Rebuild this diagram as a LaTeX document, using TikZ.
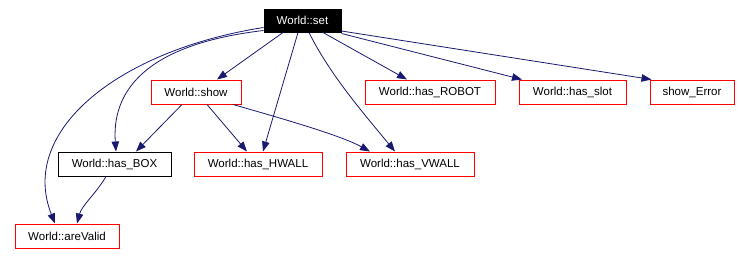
\documentclass[tikz,border=0pt]{standalone}
\usepackage{fontspec}
\setmainfont{Liberation Sans}
\usetikzlibrary{arrows.meta}
\definecolor{edgeblue}{RGB}{25,25,112}
\begin{document}
\begin{tikzpicture}[x=1pt,y=-1pt,
  fn/.style={draw=red,line width=1pt,inner sep=0pt,font=\fontsize{11.5}{13}\selectfont,minimum height=24pt},
  plainfn/.style={fn,draw=black},
  rootfn/.style={fn,draw=black,fill=black,text=white,minimum height=23pt},
  call/.style={draw=edgeblue,line width=0.8pt,-{Triangle[length=10pt,width=7.5pt]}}]
\useasboundingbox (0,0) rectangle (740,255);
% functions
\node[rootfn,minimum width=77pt] (set) at (302.5,20.5) {World::set};
\node[fn,minimum width=90pt] (show) at (196,92) {World::show};
\node[fn,minimum width=130pt] (robot) at (430,92) {World::has\_ROBOT};
\node[fn,minimum width=107pt] (slot) at (572.5,92) {World::has\_slot};
\node[fn,minimum width=84pt] (err) at (692,92) {show\_Error};
\node[plainfn,minimum width=113pt] (box) at (114.5,164) {World::has\_BOX};
\node[fn,minimum width=128pt] (hwall) at (258,164) {World::has\_HWALL};
\node[fn,minimum width=128pt] (vwall) at (410,164) {World::has\_VWALL};
\node[fn,minimum width=104pt] (valid) at (67,236) {World::areValid};
% calls made by World::set
\draw[call] ([xshift=-19.5pt]set.south) -- ([xshift=21pt]show.north);
\draw[call] ([xshift=-4.5pt]set.south) -- ([xshift=5pt]hwall.north);
\draw[call] ([xshift=6.5pt]set.south) .. controls (330,75) and (365,115) .. ([xshift=-15pt]vwall.north);
\draw[call] ([xshift=20.5pt]set.south) -- ([xshift=-23pt]robot.north);
\draw[call] ([yshift=-1pt]set.south east) -- ([xshift=-50.5pt]slot.north);
\draw[call] ([yshift=-10.5pt]set.east) -- ([xshift=2pt]err.north west);
\draw[call] ([yshift=-10pt]set.west) .. controls (140,45) and (112,95) .. ([xshift=1.5pt]box.north);
\draw[call] ([yshift=-7pt]set.west) .. controls (120,50) and (18,130) .. ([xshift=-12pt]valid.north);
% calls made by World::show
\draw[call] ([xshift=-14pt]show.south) -- ([xshift=21.5pt]box.north);
\draw[call] ([xshift=11pt]show.south) -- ([xshift=-11pt]hwall.north);
\draw[call] ([xshift=37pt]show.south) .. controls (280,118) and (340,135) .. ([xshift=-40pt]vwall.north);
% calls made by World::has_BOX
\draw[call] ([xshift=-8.5pt]box.south) .. controls (95,195) and (82,205) .. ([xshift=10pt]valid.north);
\end{tikzpicture}
\end{document}
